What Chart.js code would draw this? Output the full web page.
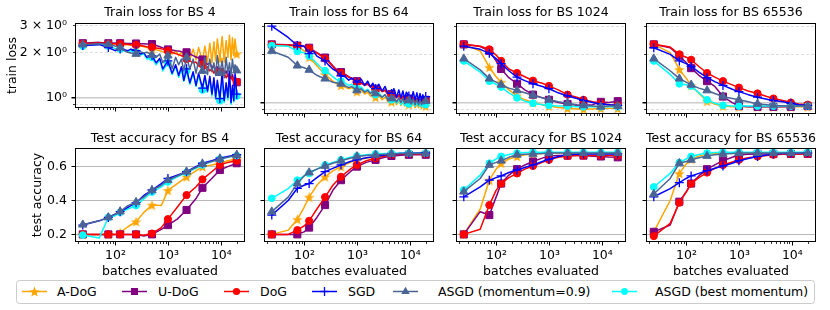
<!DOCTYPE html>
<html>
<head>
<meta charset="utf-8">
<script src="https://cdn.jsdelivr.net/npm/chart.js@4.4.0/dist/chart.umd.min.js"></script>
<style>
  body { margin: 0; background: #fff; width: 830px; height: 310px; overflow: hidden; position: relative; font-family: "DejaVu Sans", sans-serif; }
  .panel { position: absolute; }
  #legend { position: absolute; left: 0; top: 0; pointer-events: none; }
</style>
</head>
<body>
<svg id="legend" width="830" height="310"></svg>
<script>
// ---------------------------
// Data
// ---------------------------
const batchSizes = ["4", "64", "1024", "65536"];
const methods = ["A-DoG", "U-DoG", "DoG", "SGD", "ASGD (momentum=0.9)", "ASGD (best momentum)"];

// x positions (batches evaluated)
const lossX = [24, 49, 73, 98, 122, 146, 171, 195, 244, 293, 342, 391, 488, 586, 684, 781, 977, 1172, 1367, 1562,
  1758, 1953, 2197, 2539, 2930, 3320, 3711, 4394, 4883, 5469, 6055, 6641, 7227, 7813, 8398, 9375, 10352, 11328,
  12305, 13281, 14258, 15234, 16211, 17188, 18164, 19531];
const accX = [24, 49, 73, 98, 122, 171, 244, 342, 488, 732, 977, 1465, 2197, 3296, 4394, 6592, 9375, 13184, 19531];
const markX = [24, 73, 122, 244, 488, 977, 2197, 4394, 9375, 19531];

// tick values / labels
const xMajor = [100, 1000, 10000];
const xMajorText = ["10²", "10³", "10⁴"];
const xMinor = [20, 30, 40, 50, 60, 70, 80, 90, 200, 300, 400, 500, 600, 700, 800, 900,
  2000, 3000, 4000, 5000, 6000, 7000, 8000, 9000, 20000];
const lossTicks = [1, 2, 3];
const lossTickText = ["10⁰", "2 × 10⁰", "3 × 10⁰"];
const lossMinor = [0.9, 2, 3];
const accTicks = [0.2, 0.4, 0.6];
const accTickText = ["0.2", "0.4", "0.6"];

// train loss, BS 4
const loss4Adog = [2.27, 2.30, 2.27, 2.27, 2.26, 2.25, 2.25, 2.24, 2.22, 2.20, 2.18, 2.15, 2.12, 2.08, 2.05,
  2.02, 2.00, 1.95, 2.05, 1.90, 2.00, 1.85, 1.95, 1.80, 2.10, 1.78, 2.15, 1.75, 2.20, 1.72,
  2.30, 1.70, 2.35, 1.75, 2.45, 1.80, 2.55, 1.72, 2.40, 1.85, 2.60, 1.78, 2.50, 1.90, 2.45, 1.95];
const loss4Udog = [2.30, 2.33, 2.30, 2.31, 2.30, 2.30, 2.29, 2.29, 2.29, 2.28, 2.28, 2.27, 2.27, 2.22, 2.18,
  2.14, 2.09, 2.07, 2.05, 2.04, 2.02, 2.01, 2.00, 1.95, 1.90, 1.86, 1.83, 1.79, 1.72, 1.66,
  1.70, 1.58, 1.64, 1.52, 1.60, 1.48, 1.55, 1.42, 1.50, 1.38, 1.46, 1.33, 1.42, 1.30, 1.36, 1.26];
const loss4Dog = [2.28, 2.31, 2.28, 2.28, 2.27, 2.27, 2.26, 2.25, 2.24, 2.22, 2.20, 2.18, 2.16, 2.14, 2.12,
  2.10, 2.05, 2.00, 1.96, 1.93, 1.90, 1.85, 1.80, 1.75, 1.70, 1.72, 1.62, 1.66, 1.55, 1.60,
  1.50, 1.55, 1.45, 1.52, 1.42, 1.48, 1.38, 1.45, 1.35, 1.42, 1.32, 1.38, 1.30, 1.35, 1.28, 1.27];
const loss4Sgd = [2.22, 2.25, 2.15, 2.05, 2.10, 2.08, 2.05, 2.10, 2.05, 1.95, 1.98, 1.85, 1.90, 1.70, 1.82,
  1.55, 1.75, 1.45, 1.65, 1.40, 1.60, 1.30, 1.55, 1.25, 1.48, 1.20, 1.45, 1.15, 1.40, 1.10,
  1.38, 1.05, 1.35, 1.00, 1.30, 0.98, 1.45, 0.95, 1.25, 1.00, 1.50, 0.92, 1.20, 0.95, 1.45, 1.05];
const loss4Asgd = [2.25, 2.28, 2.26, 2.20, 2.15, 2.05, 2.00, 1.98, 1.95, 2.02, 1.98, 2.00, 1.92, 1.85, 1.95,
  1.70, 1.90, 1.55, 1.85, 1.65, 1.80, 1.50, 1.85, 1.55, 1.80, 1.45, 1.75, 1.50, 1.85, 1.42,
  1.80, 1.48, 1.70, 1.40, 1.90, 1.45, 1.75, 1.35, 1.85, 1.45, 1.70, 1.40, 1.80, 1.50, 1.65, 1.51];
const loss4Best = [2.20, 2.27, 2.20, 2.12, 2.10, 2.05, 2.02, 2.05, 2.00, 1.92, 1.95, 1.80, 1.85, 1.65, 1.78,
  1.50, 1.70, 1.42, 1.60, 1.36, 1.55, 1.28, 1.50, 1.22, 1.45, 1.18, 1.40, 1.12, 1.38, 1.08,
  1.33, 1.02, 1.30, 0.97, 1.25, 0.95, 1.32, 0.92, 1.20, 0.96, 1.28, 0.90, 1.15, 0.93, 1.25, 1.02];

// train loss, BS 64
const loss64Adog = [2.27, 2.26, 2.25, 2.10, 1.92, 1.80, 1.70, 1.62, 1.50, 1.42, 1.36, 1.32, 1.28, 1.25, 1.22,
  1.24, 1.17, 1.20, 1.13, 1.16, 1.10, 1.13, 1.08, 1.11, 1.04, 1.08, 1.02, 1.01, 1.05, 0.97,
  1.03, 0.96, 1.01, 0.95, 1.00, 0.97, 0.94, 0.99, 0.93, 0.98, 0.93, 0.97, 0.92, 0.96, 0.93, 0.95];
const loss64Udog = [2.31, 2.30, 2.27, 2.25, 2.20, 2.12, 2.05, 2.00, 1.91, 1.80, 1.70, 1.62, 1.55, 1.50, 1.45,
  1.42, 1.36, 1.33, 1.30, 1.32, 1.26, 1.28, 1.22, 1.24, 1.18, 1.20, 1.14, 1.13, 1.16, 1.08,
  1.12, 1.06, 1.10, 1.04, 1.09, 1.06, 1.02, 1.08, 1.01, 1.06, 1.00, 1.05, 1.00, 1.04, 1.00, 1.04];
const loss64Dog = [2.30, 2.29, 2.26, 2.24, 2.18, 2.10, 2.04, 1.98, 1.88, 1.78, 1.68, 1.60, 1.53, 1.48, 1.44,
  1.40, 1.35, 1.32, 1.28, 1.30, 1.25, 1.27, 1.21, 1.23, 1.17, 1.19, 1.13, 1.12, 1.15, 1.07,
  1.11, 1.05, 1.09, 1.04, 1.08, 1.05, 1.02, 1.07, 1.00, 1.05, 0.99, 1.04, 0.99, 1.03, 0.99, 1.01];
const loss64Sgd = [3.00, 2.55, 2.27, 2.25, 2.02, 2.10, 1.95, 1.90, 1.82, 1.70, 1.62, 1.58, 1.47, 1.45, 1.38,
  1.42, 1.34, 1.40, 1.28, 1.36, 1.25, 1.32, 1.22, 1.30, 1.18, 1.26, 1.15, 1.14, 1.22, 1.08,
  1.20, 1.07, 1.18, 1.05, 1.16, 1.10, 1.03, 1.17, 1.04, 1.15, 1.02, 1.14, 1.03, 1.12, 1.05, 1.09];
const loss64Asgd = [2.10, 1.92, 1.70, 1.65, 1.60, 1.53, 1.48, 1.45, 1.41, 1.37, 1.34, 1.33, 1.31, 1.27, 1.24,
  1.26, 1.19, 1.22, 1.16, 1.19, 1.14, 1.17, 1.14, 1.12, 1.08, 1.12, 1.05, 1.06, 1.09, 1.01,
  1.07, 1.00, 1.06, 0.99, 1.05, 1.03, 0.98, 1.05, 0.97, 1.04, 0.97, 1.03, 0.97, 1.02, 0.98, 1.02];
const loss64Best = [2.27, 2.25, 2.09, 2.05, 1.95, 1.85, 1.75, 1.68, 1.58, 1.52, 1.45, 1.40, 1.36, 1.32, 1.28,
  1.30, 1.22, 1.25, 1.18, 1.21, 1.15, 1.18, 1.12, 1.15, 1.08, 1.12, 1.05, 1.04, 1.08, 0.99,
  1.05, 0.97, 1.03, 0.96, 1.02, 0.98, 0.96, 1.01, 0.95, 1.00, 0.95, 0.99, 0.94, 0.98, 0.95, 0.97];

// train loss, BS 1024 (accX positions)
const loss1024Adog = [2.31, 2.10, 1.66, 1.45, 1.34, 1.20, 1.10, 1.04, 1.00, 0.97, 0.95, 0.93, 0.92, 0.91, 0.91, 0.91, 0.92, 0.92, 0.92];
const loss1024Udog = [2.31, 2.24, 2.10, 1.82, 1.62, 1.43, 1.31, 1.20, 1.12, 1.07, 1.04, 1.00, 0.98, 0.96, 0.96, 0.97, 1.01, 1.00, 1.02];
const loss1024Dog = [2.31, 2.25, 2.15, 1.98, 1.82, 1.62, 1.53, 1.45, 1.37, 1.32, 1.27, 1.20, 1.12, 1.08, 1.04, 1.01, 0.99, 0.97, 0.96];
const loss1024Sgd = [2.25, 2.15, 2.03, 1.88, 1.75, 1.58, 1.44, 1.37, 1.31, 1.26, 1.22, 1.15, 1.10, 1.06, 1.03, 1.00, 0.98, 0.97, 0.96];
const loss1024Asgd = [1.88, 1.60, 1.41, 1.34, 1.29, 1.23, 1.19, 1.15, 1.11, 1.07, 1.04, 1.01, 0.99, 0.97, 0.96, 0.95, 0.94, 0.95, 0.95];
const loss1024Best = [1.82, 1.55, 1.36, 1.30, 1.25, 1.15, 1.07, 1.02, 0.99, 0.97, 0.96, 0.95, 0.95, 0.94, 0.94, 0.94, 0.94, 0.94, 0.94];

// train loss, BS 65536 (accX positions)
const loss65kAdog = [2.31, 2.05, 1.61, 1.42, 1.28, 1.14, 1.02, 0.98, 0.95, 0.94, 0.94, 0.94, 0.94, 0.94, 0.94, 0.94, 0.94, 0.94, 0.94];
const loss65kUdog = [2.31, 2.20, 1.96, 1.78, 1.64, 1.48, 1.36, 1.26, 1.09, 1.00, 0.95, 0.94, 0.94, 0.94, 0.94, 0.94, 0.94, 0.95, 0.95];
const loss65kDog = [2.31, 2.22, 2.00, 1.92, 1.85, 1.68, 1.53, 1.44, 1.36, 1.29, 1.24, 1.18, 1.14, 1.09, 1.06, 1.03, 1.00, 0.98, 0.97];
const loss65kSgd = [2.20, 2.00, 1.82, 1.75, 1.68, 1.55, 1.43, 1.35, 1.28, 1.21, 1.17, 1.12, 1.08, 1.05, 1.03, 1.01, 0.99, 0.97, 0.96];
const loss65kAsgd = [1.88, 1.58, 1.41, 1.34, 1.29, 1.23, 1.19, 1.14, 1.09, 1.06, 1.04, 1.01, 0.98, 0.97, 0.96, 0.955, 0.95, 0.95, 0.95];
const loss65kBest = [1.82, 1.50, 1.31, 1.29, 1.27, 1.15, 1.04, 0.99, 0.96, 0.95, 0.95, 0.95, 0.95, 0.95, 0.95, 0.95, 0.95, 0.95, 0.95];

// test accuracy, BS 4
const acc4Adog = [0.2, 0.2, 0.2, 0.2, 0.21, 0.245, 0.275, 0.33, 0.373, 0.37, 0.46, 0.50, 0.54, 0.575, 0.60, 0.61, 0.62, 0.635, 0.645];
const acc4Udog = [0.2, 0.2, 0.2, 0.2, 0.2, 0.2, 0.2, 0.19, 0.2, 0.23, 0.255, 0.29, 0.344, 0.41, 0.475, 0.53, 0.58, 0.60, 0.62];
const acc4Dog = [0.2, 0.2, 0.2, 0.2, 0.2, 0.2, 0.2, 0.195, 0.205, 0.24, 0.29, 0.36, 0.432, 0.48, 0.525, 0.57, 0.61, 0.625, 0.635];
const acc4Sgd = [0.255, 0.28, 0.30, 0.32, 0.334, 0.36, 0.387, 0.43, 0.462, 0.50, 0.53, 0.55, 0.57, 0.60, 0.62, 0.635, 0.65, 0.66, 0.67];
const acc4Asgd = [0.257, 0.28, 0.30, 0.32, 0.335, 0.37, 0.39, 0.42, 0.46, 0.49, 0.52, 0.545, 0.57, 0.595, 0.615, 0.63, 0.645, 0.655, 0.668];
const acc4Best = [0.196, 0.178, 0.30, 0.31, 0.33, 0.35, 0.37, 0.41, 0.45, 0.48, 0.51, 0.54, 0.565, 0.59, 0.61, 0.63, 0.645, 0.655, 0.665];

// test accuracy, BS 64
const acc64Adog = [0.2, 0.225, 0.289, 0.36, 0.42, 0.49, 0.54, 0.575, 0.60, 0.625, 0.64, 0.65, 0.66, 0.665, 0.67, 0.675, 0.678, 0.68, 0.68];
const acc64Udog = [0.2, 0.2, 0.2, 0.215, 0.24, 0.30, 0.373, 0.46, 0.52, 0.57, 0.60, 0.625, 0.64, 0.655, 0.663, 0.667, 0.67, 0.67, 0.67];
const acc64Dog = [0.2, 0.2, 0.225, 0.25, 0.28, 0.35, 0.42, 0.49, 0.54, 0.585, 0.61, 0.635, 0.65, 0.662, 0.67, 0.673, 0.675, 0.675, 0.675];
const acc64Sgd = [0.314, 0.40, 0.472, 0.49, 0.50, 0.535, 0.57, 0.59, 0.61, 0.63, 0.64, 0.652, 0.66, 0.668, 0.675, 0.677, 0.678, 0.679, 0.68];
const acc64Asgd = [0.334, 0.42, 0.50, 0.545, 0.565, 0.585, 0.604, 0.62, 0.635, 0.65, 0.66, 0.665, 0.67, 0.673, 0.675, 0.677, 0.678, 0.678, 0.678];
const acc64Best = [0.413, 0.47, 0.52, 0.545, 0.56, 0.585, 0.61, 0.625, 0.64, 0.655, 0.663, 0.67, 0.675, 0.677, 0.678, 0.68, 0.68, 0.68, 0.68];

// test accuracy, BS 1024
const acc1024Adog = [0.2, 0.35, 0.52, 0.585, 0.62, 0.645, 0.66, 0.67, 0.675, 0.678, 0.68, 0.68, 0.68, 0.68, 0.68, 0.68, 0.68, 0.68, 0.68];
const acc1024Udog = [0.2, 0.334, 0.314, 0.42, 0.50, 0.55, 0.585, 0.61, 0.63, 0.65, 0.663, 0.665, 0.665, 0.665, 0.665, 0.662, 0.66, 0.657, 0.655];
const acc1024Dog = [0.2, 0.23, 0.373, 0.46, 0.50, 0.535, 0.56, 0.585, 0.604, 0.625, 0.64, 0.655, 0.663, 0.665, 0.665, 0.665, 0.665, 0.665, 0.665];
const acc1024Sgd = [0.422, 0.48, 0.52, 0.535, 0.545, 0.565, 0.58, 0.595, 0.61, 0.63, 0.644, 0.66, 0.67, 0.673, 0.675, 0.675, 0.675, 0.675, 0.675];
const acc1024Asgd = [0.452, 0.53, 0.61, 0.625, 0.635, 0.655, 0.67, 0.673, 0.675, 0.678, 0.68, 0.68, 0.68, 0.68, 0.68, 0.68, 0.68, 0.68, 0.68];
const acc1024Best = [0.462, 0.55, 0.62, 0.645, 0.66, 0.672, 0.68, 0.683, 0.685, 0.685, 0.685, 0.685, 0.685, 0.685, 0.685, 0.685, 0.685, 0.685, 0.685];

// test accuracy, BS 65536
const acc65kAdog = [0.215, 0.40, 0.56, 0.615, 0.644, 0.662, 0.675, 0.678, 0.68, 0.68, 0.68, 0.68, 0.68, 0.68, 0.68, 0.68, 0.68, 0.68, 0.68];
const acc65kUdog = [0.215, 0.255, 0.393, 0.45, 0.50, 0.545, 0.585, 0.61, 0.635, 0.655, 0.67, 0.673, 0.675, 0.675, 0.675, 0.675, 0.675, 0.675, 0.675];
const acc65kDog = [0.19, 0.265, 0.387, 0.45, 0.50, 0.535, 0.565, 0.59, 0.61, 0.627, 0.64, 0.652, 0.66, 0.665, 0.67, 0.673, 0.675, 0.675, 0.675];
const acc65kSgd = [0.422, 0.47, 0.505, 0.53, 0.545, 0.56, 0.576, 0.59, 0.604, 0.62, 0.635, 0.648, 0.66, 0.668, 0.675, 0.677, 0.678, 0.679, 0.68];
const acc65kAsgd = [0.438, 0.53, 0.62, 0.63, 0.64, 0.653, 0.663, 0.67, 0.675, 0.678, 0.68, 0.68, 0.68, 0.68, 0.68, 0.68, 0.68, 0.68, 0.68];
const acc65kBest = [0.48, 0.56, 0.624, 0.645, 0.66, 0.672, 0.68, 0.683, 0.685, 0.685, 0.685, 0.685, 0.685, 0.685, 0.685, 0.685, 0.685, 0.685, 0.685];

// ---------------------------
// Layout / style
// ---------------------------
const colLeft = [75, 264, 456, 646];
const plotW = 176;
const X_MIN = 17.1, X_MAX = 28000;
const LOSS_MIN = 0.848, LOSS_MAX = 3.14;
const ACC_MIN = 0.155, ACC_MAX = 0.71;

Chart.defaults.font.family = "'DejaVu Sans', sans-serif";
Chart.defaults.font.size = 12.5;
Chart.defaults.color = "#000";

function starImage(color, size) {
  const c = document.createElement("canvas");
  c.width = c.height = size;
  const g = c.getContext("2d");
  const R = size / 2, r = R * 0.42;
  g.beginPath();
  for (let k = 0; k < 10; k++) {
    const a = -Math.PI / 2 + k * Math.PI / 5;
    const rr = k % 2 ? r : R;
    g.lineTo(size / 2 + rr * Math.cos(a), size / 2 + 0.6 + rr * Math.sin(a));
  }
  g.closePath();
  g.fillStyle = color;
  g.fill();
  return c;
}

const style = {
  "A-DoG": { color: "#ffa500", point: starImage("#ffa500", 11), r: 5, pb: 1 },
  "U-DoG": { color: "#800080", point: "rect", r: 5, pb: 1 },
  "DoG": { color: "#ff0000", point: "circle", r: 3.6, pb: 1 },
  "SGD": { color: "#0000ff", point: "cross", r: 4.5, pb: 1.3 },
  "ASGD (momentum=0.9)": { color: "#4a6595", point: "triangle", r: 4.8, pb: 1 },
  "ASGD (best momentum)": { color: "#00ffff", point: "circle", r: 3.4, pb: 1 },
};
// back to front
const drawOrder = ["A-DoG", "U-DoG", "DoG", "ASGD (best momentum)", "SGD", "ASGD (momentum=0.9)"];

const frame = {
  id: "frame",
  afterDatasetsDraw(chart) {
    const { ctx, chartArea: a } = chart;
    ctx.save();
    ctx.strokeStyle = "#000";
    ctx.lineWidth = 1;
    ctx.strokeRect(a.left + 0.5, a.top + 0.5, a.width - 1, a.height - 1);
    ctx.restore();
  },
};

const panels = [
  { row: 0, col: 0, xs: lossX, s: [loss4Adog, loss4Udog, loss4Dog, loss4Sgd, loss4Asgd, loss4Best] },
  { row: 0, col: 1, xs: lossX, s: [loss64Adog, loss64Udog, loss64Dog, loss64Sgd, loss64Asgd, loss64Best] },
  { row: 0, col: 2, xs: accX, s: [loss1024Adog, loss1024Udog, loss1024Dog, loss1024Sgd, loss1024Asgd, loss1024Best] },
  { row: 0, col: 3, xs: accX, s: [loss65kAdog, loss65kUdog, loss65kDog, loss65kSgd, loss65kAsgd, loss65kBest] },
  { row: 1, col: 0, xs: accX, s: [acc4Adog, acc4Udog, acc4Dog, acc4Sgd, acc4Asgd, acc4Best] },
  { row: 1, col: 1, xs: accX, s: [acc64Adog, acc64Udog, acc64Dog, acc64Sgd, acc64Asgd, acc64Best] },
  { row: 1, col: 2, xs: accX, s: [acc1024Adog, acc1024Udog, acc1024Dog, acc1024Sgd, acc1024Asgd, acc1024Best] },
  { row: 1, col: 3, xs: accX, s: [acc65kAdog, acc65kUdog, acc65kDog, acc65kSgd, acc65kAsgd, acc65kBest] },
];

function buildPanel(p) {
  const isLoss = p.row === 0;
  const top = isLoss ? 0 : 130;
  const titleH = isLoss ? 23 : 18;
  const plotH = isLoss ? 93 : 94;
  const xH = isLoss ? 4 : 38;
  const axisW = p.col === 0 ? 75 : 8;
  const W = axisW + plotW, H = titleH + plotH + xH;

  const div = document.createElement("div");
  div.className = "panel";
  div.style.left = (colLeft[p.col] - axisW) + "px";
  div.style.top = top + "px";
  const cv = document.createElement("canvas");
  cv.width = W; cv.height = H;
  cv.style.width = W + "px"; cv.style.height = H + "px";
  div.appendChild(cv);
  document.body.appendChild(div);

  const datasets = drawOrder.map((m, k) => {
    const st = style[m];
    const ys = p.s[methods.indexOf(m)];
    return {
      label: m,
      data: p.xs.map((x, i) => ({ x: x, y: ys[i] })),
      borderColor: st.color,
      backgroundColor: st.color,
      borderWidth: 1.5,
      borderJoinStyle: "round",
      tension: 0,
      pointStyle: st.point,
      pointRadius: (c) => (c.raw && markX.includes(c.raw.x) ? st.r : 0),
      pointBorderWidth: st.pb,
      pointBorderColor: st.color,
      pointBackgroundColor: st.color,
      clip: 0,
      order: -k,
    };
  });

  const scales = {
    xm: {
      type: "logarithmic", position: "bottom", weight: 0, min: X_MIN, max: X_MAX,
      afterBuildTicks: (s) => { s.ticks = xMinor.map((v) => ({ value: v })); },
      afterFit: (s) => { s.height = 0; },
      ticks: { display: false, autoSkip: false },
      grid: { drawOnChartArea: false, drawTicks: true, tickLength: 2, tickColor: "#000", tickWidth: 0.8 },
      border: { display: false },
    },
    x: {
      type: "logarithmic", position: "bottom", weight: 1, min: X_MIN, max: X_MAX,
      afterBuildTicks: (s) => { s.ticks = xMajor.map((v) => ({ value: v })); },
      afterFit: (s) => { s.height = xH; },
      ticks: { display: !isLoss, autoSkip: false, maxRotation: 0, minRotation: 0, padding: 3,
        callback: (v, i) => xMajorText[i] },
      grid: { drawOnChartArea: false, drawTicks: true, tickLength: 3.5, tickColor: "#000", tickWidth: 1 },
      border: { display: false },
      title: { display: !isLoss, text: "batches evaluated", padding: { top: 0, bottom: 1 } },
    },
  };

  if (isLoss) {
    scales.y = {
      type: "logarithmic", position: "left", weight: 1, min: LOSS_MIN, max: LOSS_MAX,
      afterBuildTicks: (s) => { s.ticks = lossTicks.map((v) => ({ value: v })); },
      afterFit: (s) => { s.width = axisW; },
      ticks: { display: p.col === 0, autoSkip: false, padding: 4.5, callback: (v, i) => lossTickText[i] },
      grid: {
        drawTicks: true, tickLength: 3.5, lineWidth: 1.5,
        color: (c) => (c.tick && c.tick.value === 1 ? "#cccccc" : "rgba(0,0,0,0)"),
        tickColor: (c) => (c.tick && c.tick.value === 1 ? "#000" : "rgba(0,0,0,0)"),
      },
      border: { display: false },
      title: { display: p.col === 0, text: "train loss", padding: { top: 5, bottom: 0 } },
    };
    scales.ym = {
      type: "logarithmic", position: "left", weight: 0, min: LOSS_MIN, max: LOSS_MAX,
      afterBuildTicks: (s) => { s.ticks = lossMinor.map((v) => ({ value: v })); },
      afterFit: (s) => { s.width = 0; },
      ticks: { display: false, autoSkip: false },
      grid: { drawTicks: true, tickLength: 2, lineWidth: 0.8, color: "#d6d6d6", tickColor: "#000", tickWidth: 0.8 },
      border: { display: false, dash: [3, 2] },
    };
  } else {
    scales.y = {
      type: "linear", position: "left", weight: 1, min: ACC_MIN, max: ACC_MAX,
      afterBuildTicks: (s) => { s.ticks = accTicks.map((v) => ({ value: v })); },
      afterFit: (s) => { s.width = axisW; },
      ticks: { display: p.col === 0, autoSkip: false, padding: 4.5, callback: (v, i) => accTickText[i] },
      grid: { drawTicks: true, tickLength: 3.5, lineWidth: 1, color: "#b8b8b8", tickColor: "#000" },
      border: { display: false },
      title: { display: p.col === 0, text: "test accuracy", padding: { top: 30.5, bottom: 0 } },
    };
  }

  const title = (isLoss ? "Train loss for BS " : "Test accuracy for BS ") + batchSizes[p.col];

  new Chart(cv.getContext("2d"), {
    type: "line",
    data: { datasets: datasets },
    options: {
      responsive: false,
      devicePixelRatio: 1,
      animation: false,
      events: [],
      layout: { padding: 0 },
      scales: scales,
      plugins: {
        legend: { display: false },
        tooltip: { enabled: false },
        title: {
          display: true, text: title, fullSize: false, color: "#000",
          font: { size: 12.5, weight: "normal" },
          padding: isLoss ? { top: 5, bottom: 3 } : { top: 1, bottom: 2 },
        },
      },
    },
    plugins: [frame],
  });
}

panels.forEach(buildPanel);

// ---------------------------
// Legend (bottom box)
// ---------------------------
function buildLegend() {
  const svg = document.getElementById("legend");
  const NS = "http://www.w3.org/2000/svg";
  const cy = 291.5;
  const handleX = [22, 122, 224, 312, 393, 612];
  const textX = [57, 158, 260, 348, 438, 655];
  const add = (tag, attrs, text) => {
    const el = document.createElementNS(NS, tag);
    for (const k in attrs) el.setAttribute(k, attrs[k]);
    if (text) el.textContent = text;
    svg.appendChild(el);
    return el;
  };
  add("rect", { x: 16.5, y: 280.5, width: 798, height: 23, rx: 3, fill: "#fff", stroke: "#cccccc", "stroke-width": 1 });
  methods.forEach((m, i) => {
    const st = style[m];
    const x0 = handleX[i], x1 = x0 + 25, cx = (x0 + x1) / 2;
    add("line", { x1: x0, y1: cy, x2: x1, y2: cy, stroke: st.color, "stroke-width": 1.5 });
    if (m === "A-DoG") {
      let pts = [];
      for (let k = 0; k < 10; k++) {
        const a = -Math.PI / 2 + k * Math.PI / 5;
        const rr = k % 2 ? 2.3 : 5.5;
        pts.push((cx + rr * Math.cos(a)).toFixed(2) + "," + (cy + 0.6 + rr * Math.sin(a)).toFixed(2));
      }
      add("polygon", { points: pts.join(" "), fill: st.color });
    } else if (m === "U-DoG") {
      add("rect", { x: cx - 3.5, y: cy - 3.5, width: 7, height: 7, fill: st.color });
    } else if (m === "SGD") {
      add("line", { x1: cx - 4.5, y1: cy, x2: cx + 4.5, y2: cy, stroke: st.color, "stroke-width": 1.3 });
      add("line", { x1: cx, y1: cy - 4.5, x2: cx, y2: cy + 4.5, stroke: st.color, "stroke-width": 1.3 });
    } else if (m === "ASGD (momentum=0.9)") {
      add("polygon", { points: `${cx},${cy - 4.8} ${cx + 4.2},${cy + 2.4} ${cx - 4.2},${cy + 2.4}`, fill: st.color });
    } else {
      add("circle", { cx: cx, cy: cy, r: st.r, fill: st.color });
    }
    add("text", { x: textX[i], y: cy, "dominant-baseline": "central", "font-family": "DejaVu Sans", "font-size": "12.5px", fill: "#000" }, m);
  });
}
buildLegend();
</script>
</body>
</html>
